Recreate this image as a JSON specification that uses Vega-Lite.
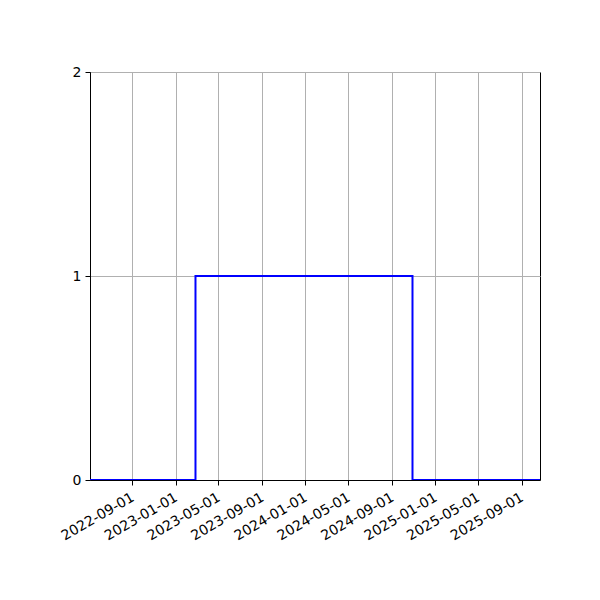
{
  "$schema": "https://vega.github.io/schema/vega-lite/v6.json",
  "autosize": {"type": "none"},
  "width": 450,
  "height": 408,
  "padding": {"left": 90, "top": 72, "right": 60, "bottom": 120},
  "background": "white",
  "config": {
    "view": {"stroke": "black", "strokeWidth": 1},
    "font": "DejaVu Sans",
    "axis": {
      "domainColor": "black",
      "tickColor": "black",
      "gridColor": "#b0b0b0",
      "gridWidth": 1,
      "labelColor": "black",
      "labelFontSize": 14,
      "labelFont": "DejaVu Sans",
      "tickSize": 5,
      "titleFontSize": 13
    }
  },
  "data": {
    "values": [
      {"date": "2022-05-05", "value": 0},
      {"date": "2023-02-26", "value": 1},
      {"date": "2024-10-29", "value": 0},
      {"date": "2025-10-23", "value": 0}
    ]
  },
  "mark": {"type": "line", "interpolate": "step-after", "color": "#0000ff", "strokeWidth": 2, "clip": true},
  "encoding": {
    "x": {
      "field": "date",
      "type": "temporal",
      "scale": {"type": "utc", "domain": [{"year": 2022, "month": 5, "date": 5, "utc": true}, {"year": 2025, "month": 10, "date": 23, "utc": true}], "nice": false},
      "axis": {
        "title": null,
        "values": [
          {"year": 2022, "month": 9, "date": 1, "utc": true},
          {"year": 2023, "month": 1, "date": 1, "utc": true},
          {"year": 2023, "month": 5, "date": 1, "utc": true},
          {"year": 2023, "month": 9, "date": 1, "utc": true},
          {"year": 2024, "month": 1, "date": 1, "utc": true},
          {"year": 2024, "month": 5, "date": 1, "utc": true},
          {"year": 2024, "month": 9, "date": 1, "utc": true},
          {"year": 2025, "month": 1, "date": 1, "utc": true},
          {"year": 2025, "month": 5, "date": 1, "utc": true},
          {"year": 2025, "month": 9, "date": 1, "utc": true}
        ],
        "labelExpr": "utcFormat(datum.value, '%Y-%m-%d')",
        "labelAngle": -30,
        "labelAlign": "right",
        "labelBaseline": "top",
        "labelPadding": 5,
        "labelOffset": -3,
        "labelOverlap": false,
        "grid": true
      }
    },
    "y": {
      "field": "value",
      "type": "quantitative",
      "scale": {"domain": [0, 2], "nice": false, "zero": true},
      "axis": {"title": null, "values": [0, 1, 2], "labelExpr": "format(datum.value, 'd')", "labelOverlap": false, "grid": true, "labelPadding": 4}
    }
  }
}
